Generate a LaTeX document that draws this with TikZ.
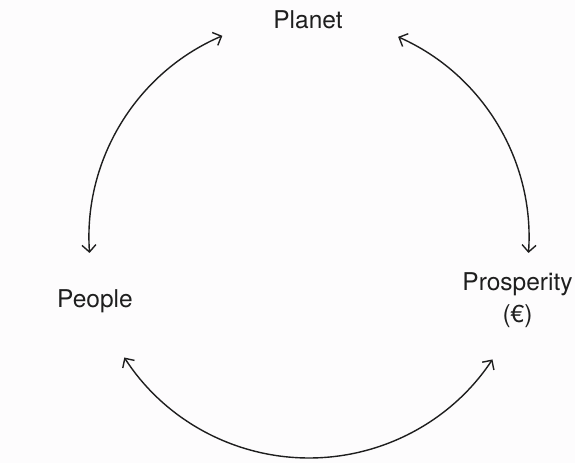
\documentclass[tikz,border=0pt]{standalone}
\usepackage{fontspec}
\setmainfont{TeX Gyre Heros}
\usetikzlibrary{arrows.meta}
\definecolor{bgcol}{RGB}{253,252,253}
\definecolor{inkcol}{RGB}{30,30,30}
\begin{document}
\begin{tikzpicture}[x=1pt,y=1pt,
  label/.style={inner sep=0pt, text=inkcol, font=\fontsize{24.5}{32}\selectfont, align=center, anchor=base},
  link/.style={draw=inkcol, line width=1.4pt, {Straight Barb[length=7pt,width=14pt]}-{Straight Barb[length=7pt,width=14pt]}}
]
\fill[bgcol] (0,0) rectangle (575,463);
\useasboundingbox (0,0) rectangle (575,463);
\coordinate (O) at (309,225);
\node[label] (planet) at (308,434.7) {Planet};
\node[label] (people) at (95,155.3) {People};
\node[label] (prosperity) at (517.5,140) {Prosperity\\(€)};
% connectors: arcs of one circle between the three nodes
\draw[link] ([shift={(113.2:220)}]O) arc[start angle=113.2, end angle=183.9, radius=220];
\draw[link] ([shift={(66.1:220)}]O) arc[start angle=66.1, end angle=-3.9, radius=220];
\draw[link] ([shift={(212.9:220)}]O) arc[start angle=212.9, end angle=326.5, radius=220];
\end{tikzpicture}
\end{document}
